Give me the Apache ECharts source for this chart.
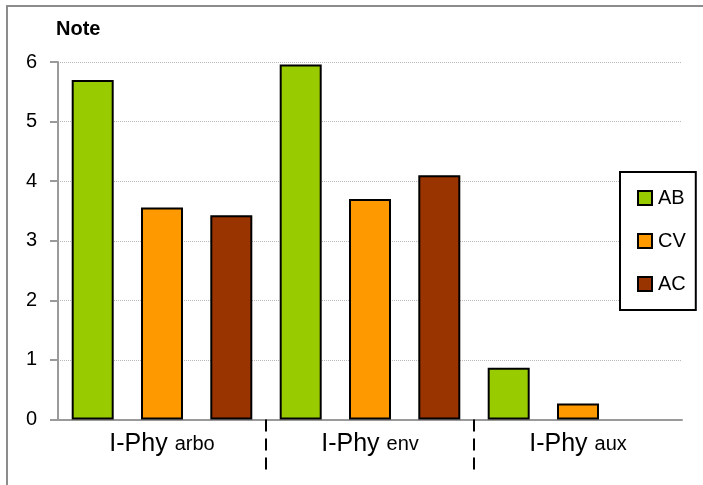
<!DOCTYPE html>
<html>
<head>
<meta charset="utf-8">
<script src="https://cdn.jsdelivr.net/npm/echarts@6/dist/echarts.min.js"></script>
<style>
html,body{margin:0;padding:0;background:#fff;}
#chart{width:703px;height:485px;}
</style>
</head>
<body>
<div id="chart"></div>
<script>
const categories = ['I-Phy {s|arbo}', 'I-Phy {s|env}', 'I-Phy {s|aux}'];
const seriesNames = ['AB', 'CV', 'AC'];
const valuesAB = [5.7, 5.96, 0.87];
const valuesCV = [3.56, 3.70, 0.27];
const valuesAC = [3.43, 4.10, null];
const yTicks = [0, 1, 2, 3, 4, 5, 6];
const colors = ['#99CC00', '#FF9900', '#993300'];
const groupBoundaries = [1, 2];

const FONT = "'Liberation Sans', Arial, sans-serif";
const chart = echarts.init(document.getElementById('chart'), null, {renderer: 'canvas'});

const seriesData = [valuesAB, valuesCV, valuesAC];
const series = seriesNames.map((name, i) => ({
  name: name,
  type: 'bar',
  xAxisIndex: 0,
  yAxisIndex: 0,
  data: seriesData[i],
  barWidth: 42,
  barGap: '65%',
  itemStyle: {color: colors[i], borderColor: '#000', borderWidth: 2},
  emphasis: {disabled: true}
}));

chart.setOption({
  animation: false,
  backgroundColor: '#fff',
  textStyle: {fontFamily: FONT},
  graphic: [{
    type: 'rect', silent: true, z: -10,
    shape: {x: 7, y: 6, width: 800, height: 600},
    style: {fill: '#fff', stroke: '#8c8c8c', lineWidth: 2}
  }],
  title: {
    text: 'Note', left: 56, top: 19, padding: 0,
    textStyle: {fontFamily: FONT, fontWeight: 'bold', fontSize: 20, color: '#000'}
  },
  legend: {
    data: seriesNames,
    orient: 'vertical',
    left: 620, top: 172,
    padding: [16, 10, 16, 17],
    itemGap: 23,
    itemWidth: 14, itemHeight: 14,
    icon: 'rect',
    backgroundColor: '#fff',
    borderColor: '#000', borderWidth: 2, borderRadius: 0,
    textStyle: {fontFamily: FONT, fontSize: 20, color: '#000', padding: [0, 0, 0, 1]},
    z: 20
  },
  grid: {left: 58, right: 21, top: 62, bottom: 65.5, containLabel: false},
  xAxis: [{
    type: 'category',
    data: categories,
    axisLine: {show: true, lineStyle: {color: '#9a9a9a', width: 2}},
    axisTick: {show: false},
    axisLabel: {
      margin: 12,
      interval: 0,
      fontFamily: FONT,
      fontSize: 25, lineHeight: 25, color: '#000',
      rich: {s: {fontSize: 20, lineHeight: 25, fontFamily: FONT, color: '#000'}}
    },
    splitLine: {show: false}
  }, {
    type: 'value',
    position: 'bottom',
    min: 0, max: 3,
    axisLine: {show: false},
    axisLabel: {show: false},
    splitLine: {show: false},
    axisTick: {
      show: true, inside: false, length: 54,
      customValues: groupBoundaries,
      lineStyle: {color: '#000', width: 2, type: [12, 7]}
    }
  }],
  yAxis: {
    type: 'value',
    min: yTicks[0], max: yTicks[yTicks.length - 1], interval: 1,
    axisLine: {show: true, lineStyle: {color: '#9a9a9a', width: 2}},
    axisTick: {show: true, length: 8, lineStyle: {color: '#9a9a9a', width: 2}},
    axisLabel: {margin: 21, fontFamily: FONT, fontSize: 20, color: '#000'},
    splitLine: {show: true, lineStyle: {color: '#b8b8b8', width: 1, type: 'dotted'}}
  },
  series: series
});
</script>
</body>
</html>
